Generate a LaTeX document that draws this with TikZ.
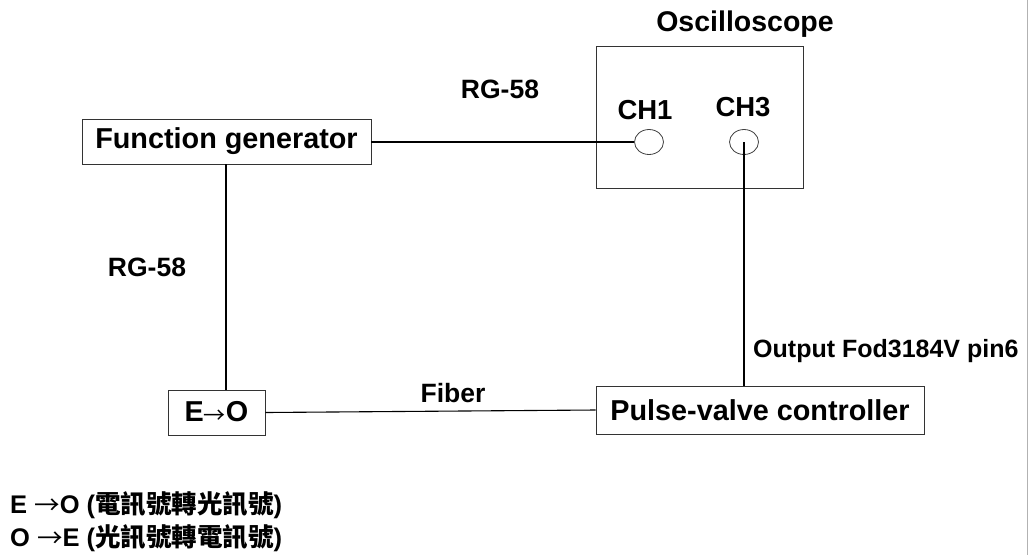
\documentclass[tikz,border=0pt]{standalone}
\usepackage{fontspec}
\usetikzlibrary{shapes.geometric}
\setmainfont{Liberation Sans}
\newfontfamily\cjk{Noto Sans CJK TC}
\begin{document}
\begin{tikzpicture}[x=1pt,y=-1pt,
  box/.style={draw=black!80,line width=0.9pt,rectangle,inner sep=0pt,font=\fontsize{28.8}{31}\selectfont\bfseries},
  lbl/.style={inner sep=0pt,font=\fontsize{26.5}{29}\selectfont\bfseries},
  port/.style={draw=black!75,line width=0.8pt,ellipse,minimum width=29pt,minimum height=25pt,inner sep=0pt},
  wire/.style={line width=1.1pt,black}]
\useasboundingbox (0,0) rectangle (1030,555);
\fill[white] (0,0) rectangle (1030,555);
\draw[black!30,line width=1pt] (1027,0) -- (1027,555);

\node[box,minimum width=289pt,minimum height=45pt] (fg) at (226.5,141.5) {Function generator};
\node[draw=black!80,line width=0.9pt,minimum width=207pt,minimum height=142pt,inner sep=0pt] (osc) at (699.5,117) {};
\node[lbl,font=\fontsize{28.5}{31}\selectfont\bfseries] (osct) at (745,24) {Oscilloscope};
\node[lbl,font=\fontsize{27.5}{30}\selectfont\bfseries] (ch1t) at (645,110) {CH1};
\node[lbl,font=\fontsize{27.5}{30}\selectfont\bfseries] (ch3t) at (743,107) {CH3};
\node[port] (ch1) at (649,142) {};
\node[port] (ch3) at (744,142) {};
\node[box,minimum width=328pt,minimum height=48pt] (pv) at (760,410) {Pulse-valve controller};
\node[box,minimum width=97pt,minimum height=45pt] (eo) at (216.5,412.5) {E{\cjk\mdseries\fontsize{22}{24}\selectfont\raisebox{-1.5pt}{→}}O};

\coordinate (ch3c) at (744,142);
\draw[wire] (fg.east |- ch1.west) -- (ch1.west);
\draw[wire] (ch3c) -- (ch3c |- pv.north);
\draw[wire] (226,164) -- (226,390);
\draw[wire] (eo.east) -- (pv.west);

\node[lbl] (rg1) at (500,89) {RG-58};
\node[lbl] (rg2) at (147,267) {RG-58};
\node[lbl] (fib) at (453,393) {Fiber};
\node[lbl,anchor=west,font=\fontsize{25}{28}\selectfont\bfseries] (out) at (753,351) {Output Fod3184V pin6};

\node[lbl,anchor=west,font=\fontsize{25.5}{28}\selectfont\bfseries] (n1) at (10,505) {E {\cjk\mdseries\raisebox{-1.5pt}{→}}O ({\cjk 電訊號轉光訊號})};
\node[lbl,anchor=west,font=\fontsize{25.5}{28}\selectfont\bfseries] (n2) at (10,538) {O {\cjk\mdseries\raisebox{-1.5pt}{→}}E ({\cjk 光訊號轉電訊號})};
\end{tikzpicture}
\end{document}
